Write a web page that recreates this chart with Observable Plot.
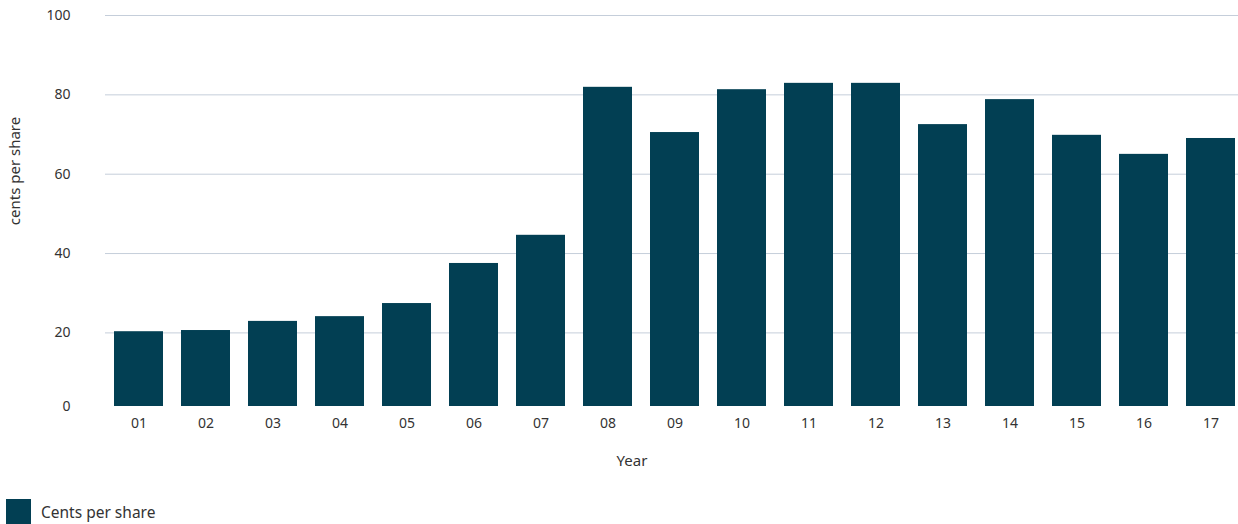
<!DOCTYPE html>
<html>
<head>
<meta charset="utf-8">
<script src="https://cdn.jsdelivr.net/npm/d3@7"></script>
<script src="https://cdn.jsdelivr.net/npm/@observablehq/plot@0.6"></script>
<style>
  body { margin: 0; background: #fff; font-family: "Noto Sans", sans-serif; }
  #legend { display: flex; align-items: center; padding-left: 6px; padding-top: 9px; font-size: 15.5px; color: #333; }
  #legend .sw { width: 25px; height: 25px; background: #023f53; margin-right: 10px; }
</style>
</head>
<body>
<div id="chart"></div>
<div id="legend"><span class="sw"></span><span>Cents per share</span></div>
<script>
const years = ["01","02","03","04","05","06","07","08","09","10","11","12","13","14","15","16","17"];
const cents = [20.3, 20.6, 22.9, 24.1, 27.4, 37.5, 44.6, 81.9, 70.5, 81.3, 82.9, 82.9, 72.5, 78.8, 69.8, 65.0, 69.0];
const yTicks = [0, 20, 40, 60, 80, 100];
const gridTicks = [20, 40, 60, 80, 100];
const seriesName = "Cents per share";
const yLabel = "cents per share";
const xLabel = "Year";

const data = years.map((year, i) => ({year, cents: cents[i]}));

const chart = Plot.plot({
  width: 1238,
  height: 490,
  marginLeft: 105,
  marginRight: 0,
  marginTop: 15,
  marginBottom: 84,
  style: {fontFamily: "Noto Sans", fontSize: "14px", color: "#333", background: "#fff"},
  x: {domain: years, paddingInner: 0.27, paddingOuter: 0.09, align: 0.75, label: null},
  y: {domain: [1.45, 100], clamp: true, label: null},
  marks: [
    Plot.ruleY(gridTicks, {stroke: "#c5ceda", strokeWidth: 1}),
    Plot.barY(data, {x: "year", y: "cents", fill: "#023f53"}),
    Plot.axisY(yTicks, {tickSize: 0, tickPadding: 35, label: null, fontSize: 14}),
    Plot.axisX({tickSize: 0, tickPadding: 12, label: null, fontSize: 14}),
    Plot.text([yLabel], {text: d => d, frameAnchor: "left", textAnchor: "middle", rotate: -90, dx: -90, dy: -40, fontSize: 15}),
    Plot.text([xLabel], {text: d => d, frameAnchor: "bottom", textAnchor: "middle", dy: 59, dx: -40, fontSize: 15})
  ]
});
document.getElementById("chart").appendChild(chart);
</script>
</body>
</html>
